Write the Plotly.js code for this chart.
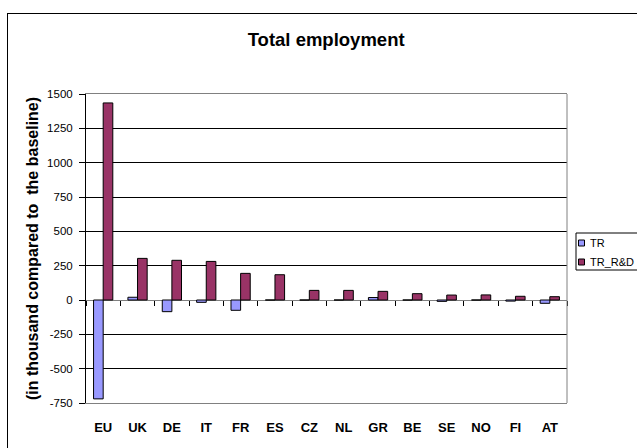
<!DOCTYPE html>
<html>
<head>
<meta charset="utf-8">
<script src="https://cdn.plot.ly/plotly-3.0.1.min.js"></script>
<style>
html,body{margin:0;padding:0;background:#fff;overflow:hidden;}
#wrap{position:relative;width:637px;height:448px;overflow:hidden;}
#chart{width:637px;height:448px;}
#frame{position:absolute;left:7px;top:13px;width:700px;height:500px;border:1px solid #000;pointer-events:none;}
</style>
</head>
<body>
<div id="wrap">
<div id="chart"></div>
<div id="frame"></div>
</div>
<script>
var categories = ["EU", "UK", "DE", "IT", "FR", "ES", "CZ", "NL", "GR", "BE", "SE", "NO", "FI", "AT"];
var trValues = [-720, 20, -85, -17, -75, 0, 0, 0, 18, 0, -10, 0, -8, -24];
var trRdValues = [1435, 303, 289, 281, 194, 184, 70, 70, 63, 46, 36, 37, 27, 24];
var yTickValues = [-750, -500, -250, 0, 250, 500, 750, 1000, 1250, 1500];
var seriesNames = ["TR", "TR_R&D"];
var seriesColors = ["#9999FF", "#993366"];

var FONT = "Liberation Sans, Arial, sans-serif";

var traces = [
  {
    type: "bar", name: seriesNames[0], x: categories, y: trValues,
    marker: {color: seriesColors[0], line: {color: "#000000", width: 1}},
    hoverinfo: "x+y", showlegend: false
  },
  {
    type: "bar", name: seriesNames[1], x: categories, y: trRdValues,
    marker: {color: seriesColors[1], line: {color: "#000000", width: 1}},
    hoverinfo: "x+y", showlegend: false
  },
  {
    type: "scatter", mode: "none", x: categories, y: categories.map(function(){return null;}),
    xaxis: "x2", yaxis: "y", showlegend: false, hoverinfo: "skip"
  }
];

// plot area in pixels: left 86, right 567, top 94, bottom 403
var PL = 86, PW = 481, PB = 403, PH = 309;
function px(x){ return (x - PL) / PW; }
function py(y){ return (PB - y) / PH; }

var shapes = [
  {type: "line", xref: "paper", yref: "paper", x0: 1, x1: 1, y0: 0, y1: 1,
   line: {color: "#808080", width: 1}, layer: "above"},
  // legend box
  {type: "rect", xref: "paper", yref: "paper", x0: px(576), x1: px(660), y0: py(270), y1: py(233),
   line: {color: "#000000", width: 1}, fillcolor: "#ffffff", layer: "above"}
];
var annotations = [];
var legendRowsY = [243, 262];
for (var i = 0; i < seriesNames.length; i++) {
  var cy = legendRowsY[i];
  shapes.push({type: "rect", xref: "paper", yref: "paper",
    x0: px(578.5), x1: px(584.5), y0: py(cy + 3), y1: py(cy - 3),
    line: {color: "#000000", width: 1}, fillcolor: seriesColors[i], layer: "above"});
  annotations.push({xref: "paper", yref: "paper", x: px(588), y: py(cy),
    xanchor: "left", yanchor: "middle", showarrow: false, text: seriesNames[i],
    font: {family: FONT, size: 11, color: "#000000"}});
}

var layout = {
  width: 637, height: 448,
  margin: {l: 86, r: 70, t: 94, b: 45, autoexpand: false},
  paper_bgcolor: "#ffffff", plot_bgcolor: "#ffffff",
  font: {family: FONT, color: "#000000", size: 11},
  title: {
    text: "Total employment",
    font: {family: FONT, size: 18.5, weight: "bold", color: "#000000"},
    x: 0.512, xref: "container", xanchor: "center",
    y: 0.911, yref: "container", yanchor: "middle"
  },
  barmode: "group", bargap: 0.44, bargroupgap: 0,
  showlegend: false,
  xaxis: {
    type: "category", range: [-0.5, 13.5],
    showline: true, mirror: true, linecolor: "#808080", linewidth: 1,
    ticks: "", showgrid: false, zeroline: false,
    tickfont: {family: FONT, size: 13, weight: "bold", color: "#000000"},
    ticklabelstandoff: 12,
    fixedrange: true
  },
  xaxis2: {
    type: "category", overlaying: "x", anchor: "free", position: 0.3333,
    range: [-0.5, 13.5], showticklabels: false, showgrid: false, showline: false,
    zeroline: false, ticks: "outside", tickson: "boundaries", ticklen: 5,
    tickcolor: "#000000", tickwidth: 1, fixedrange: true
  },
  yaxis: {
    range: [-750, 1500], tickvals: yTickValues, ticktext: yTickValues.map(String),
    showgrid: true, gridcolor: "#000000", gridwidth: 1,
    zeroline: true, zerolinecolor: "#808080", zerolinewidth: 1,
    showline: true, linecolor: "#000000", linewidth: 1,
    ticks: "outside", ticklen: 6, tickcolor: "#000000",
    ticklabelstandoff: 4,
    tickfont: {family: FONT, size: 11.5, color: "#000000"},
    title: {
      text: "(in thousand compared to  the baseline)",
      font: {family: FONT, size: 16, weight: "bold", color: "#000000"},
      standoff: 4
    },
    automargin: false,
    fixedrange: true
  },
  shapes: shapes,
  annotations: annotations
};

Plotly.newPlot("chart", traces, layout, {displayModeBar: false, staticPlot: true});
</script>
</body>
</html>
